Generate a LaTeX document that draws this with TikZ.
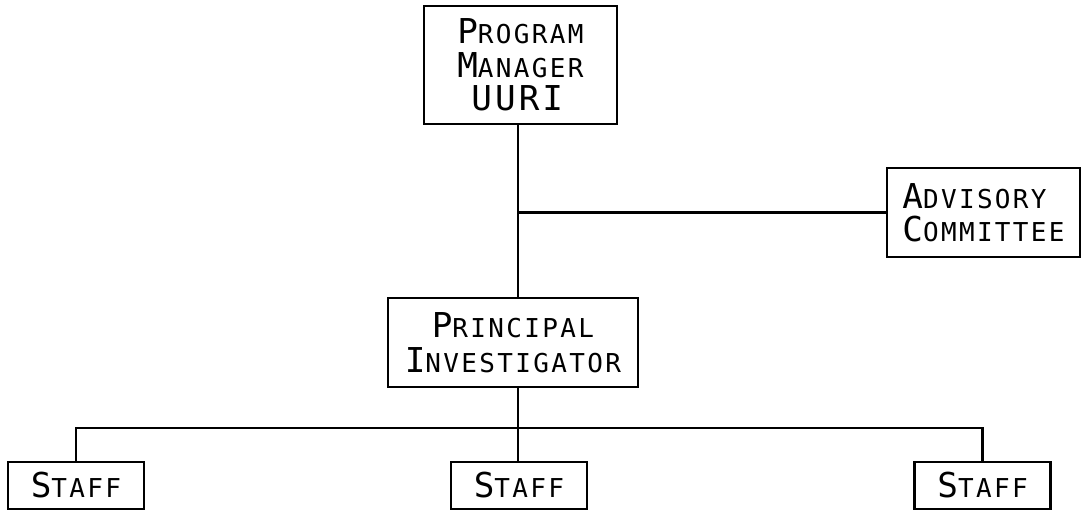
\documentclass[tikz,border=0pt]{standalone}
\usepackage{fontspec}
\newfontfamily\orgfont[LetterSpace=9]{DejaVu Sans Mono}
\newcommand{\capword}[2]{{\fontsize{19.5}{16.5}\selectfont #1}#2}

\begin{document}
\begin{tikzpicture}[line width=1.3pt,
    orgbox/.style={draw, inner sep=0pt, align=center,
      font=\orgfont\fontsize{14.8}{16.5}\selectfont}]
    \useasboundingbox (0,0) rectangle (21.72,10.22);
    \node[orgbox, minimum width=3.86cm, minimum height=2.36cm, align=left] (pm) at (10.41,8.92)
      {\capword{P}{ROGRAM}\\[2.6pt]\capword{M}{ANAGER}\\[2.6pt]\hspace*{.28cm}{\fontsize{19.5}{16.5}\selectfont UURI}};
    \node[orgbox, minimum width=3.86cm, minimum height=1.78cm, align=left] (adv) at (19.67,5.97)
      {\capword{A}{DVISORY}\\[2pt]\capword{C}{OMMITTEE}};
    \node[orgbox, minimum width=5cm, minimum height=1.78cm] (pi) at (10.26,3.37)
      {\capword{P}{RINCIPAL}\\[3.4pt]\capword{I}{NVESTIGATOR}};
    \foreach \x/\name in {1.52/s1,10.38/s2,19.65/s3}
      \node[orgbox, minimum width=2.72cm, minimum height=.94cm] (\name) at (\x,.51) {\capword{S}{TAFF}};
    \coordinate (j) at (10.36,5.97);
    \coordinate (bus) at (0,1.66);
    \draw (pm.south -| j) -- (pi.north -| j);
    \draw (j) -- (adv.west);
    \draw (pi.south -| j) -- (s2.north -| j);
    \draw (s1.north) |- (s3.north |- bus) -- (s3.north);
  \end{tikzpicture}
\end{document}
